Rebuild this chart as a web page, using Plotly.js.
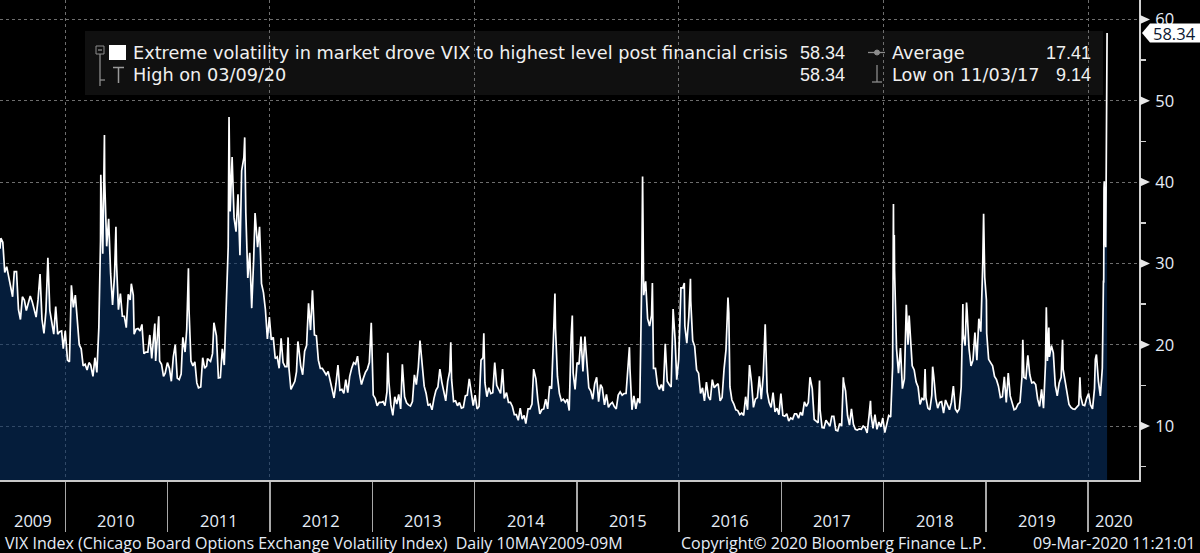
<!DOCTYPE html>
<html><head><meta charset="utf-8">
<script src="https://cdn.plot.ly/plotly-3.0.1.min.js"></script>
<style>html,body{margin:0;padding:0;background:#000;overflow:hidden}#chart{width:1200px;height:553px}</style>
</head><body><div id="chart"></div>
<script>
// ---------------- DATA ----------------
const d2009=['05-12','05-15','05-22','05-29','06-05','06-12','06-19','06-26','07-02','07-10','07-17','07-24','07-31','08-07','08-14','08-21','08-28','09-04','09-11','09-18','09-25','10-02','10-09','10-16','10-23','10-30','11-06','11-13','11-20','11-27','12-04','12-11','12-18','12-24','12-31'];
const v2009=[31.8,33.1,32.6,28.9,29.6,28.2,27.0,25.9,29.0,29.0,24.3,23.1,25.9,25.5,24.2,25.0,26.0,25.3,24.2,23.4,25.6,28.7,23.1,21.4,24.1,30.7,24.2,22.7,21.3,24.7,21.3,21.6,21.7,19.5,21.7];
const d2010=['01-08','01-15','01-22','01-29','02-05','02-12','02-19','02-26','03-05','03-12','03-19','03-26','04-01','04-09','04-16','04-23','04-30','05-06','05-07','05-14','05-20','05-21','05-28','06-04','06-11','06-18','06-25','06-30','07-02','07-09','07-16','07-23','07-30','08-06','08-13','08-20','08-24','08-31','09-03','09-10','09-17','09-24','10-01','10-08','10-15','10-22','10-29','11-05','11-12','11-16','11-19','11-26','11-30','12-03','12-10','12-17','12-23','12-31'];
const v2010=[18.1,17.9,27.3,24.6,26.1,22.7,20.0,19.5,17.4,17.6,16.9,17.8,17.5,16.1,18.4,16.6,22.1,32.8,40.9,31.2,45.8,40.1,32.1,35.5,28.8,24.9,28.5,34.5,30.1,24.3,26.3,23.5,23.5,22.1,26.2,25.5,27.5,26.1,21.3,21.9,22.0,21.7,22.5,18.9,19.1,19.1,21.2,18.3,20.6,22.6,18.0,22.0,23.5,18.0,17.6,16.1,16.5,17.8];
const d2011=['01-07','01-14','01-21','01-28','02-04','02-11','02-18','02-24','03-04','03-10','03-16','03-18','03-25','04-01','04-08','04-15','04-21','04-29','05-06','05-13','05-20','05-23','06-03','06-10','06-15','06-24','07-01','07-08','07-15','07-22','07-29','08-05','08-08','08-12','08-19','08-26','09-02','09-09','09-16','09-22','09-30','10-03','10-07','10-14','10-21','10-28','11-04','11-09','11-18','11-25','12-02','12-09','12-16','12-23','12-30'];
const v2011=[17.1,15.5,18.5,20.0,15.9,15.7,16.4,20.9,19.1,21.9,29.4,24.4,18.0,17.4,17.9,15.3,14.7,14.8,18.4,17.1,17.4,18.3,17.95,18.9,22.7,21.1,15.9,15.95,19.5,17.5,25.3,32.0,48.0,36.4,43.1,35.6,33.9,38.5,31.0,41.4,43.0,45.5,36.2,28.2,31.3,24.5,30.5,36.2,32.0,34.5,27.5,26.4,24.3,20.7,23.4];
const d2012=['01-06','01-13','01-20','01-27','02-03','02-10','02-17','02-24','03-02','03-06','03-09','03-16','03-23','03-30','04-05','04-10','04-13','04-20','04-27','05-04','05-11','05-18','05-25','06-01','06-08','06-15','06-22','06-29','07-06','07-13','07-20','07-27','08-03','08-10','08-17','08-24','08-31','09-07','09-14','09-21','09-28','10-05','10-12','10-19','10-26','11-02','11-09','11-16','11-23','11-30','12-07','12-14','12-21','12-28'];
const v2012=[20.6,20.9,18.3,18.5,17.1,20.8,17.8,17.3,17.3,20.9,17.1,14.5,15.0,15.5,16.7,20.4,19.6,17.4,16.3,19.2,19.9,25.1,21.8,26.7,21.2,21.1,18.1,17.1,17.1,16.7,16.3,16.7,15.6,14.7,13.45,15.2,17.5,14.4,14.5,14.0,15.7,14.1,16.1,17.1,17.8,17.6,18.6,16.4,15.1,15.9,16.6,17.0,17.8,22.7];
const d2013=['01-04','01-11','01-18','01-25','02-01','02-08','02-15','02-22','02-25','03-01','03-08','03-15','03-22','03-29','04-05','04-12','04-18','04-26','05-03','05-10','05-17','05-24','05-31','06-07','06-14','06-20','06-28','07-05','07-12','07-19','07-26','08-02','08-09','08-16','08-23','08-30','09-06','09-13','09-20','09-27','10-04','10-08','10-11','10-18','10-25','11-01','11-08','11-15','11-22','11-29','12-06','12-13','12-20','12-27'];
const v2013=[13.8,13.4,12.5,12.9,12.9,13.0,12.5,14.2,19.0,15.4,12.6,11.3,13.6,12.7,13.9,12.1,17.6,13.6,12.85,12.6,12.45,13.0,16.3,15.1,17.2,20.5,16.9,14.9,14.0,12.5,12.7,12.0,13.4,14.4,14.8,17.0,15.4,14.2,13.1,15.5,16.7,20.3,15.7,13.0,13.1,12.5,12.9,12.2,12.3,13.7,13.8,15.8,13.8,12.5];
const d2014=['01-03','01-10','01-17','01-24','01-31','02-03','02-07','02-14','02-21','02-28','03-07','03-14','03-21','03-28','04-04','04-11','04-17','04-25','05-02','05-09','05-16','05-23','05-30','06-06','06-13','06-20','06-27','07-03','07-11','07-18','07-25','07-31','08-08','08-15','08-22','08-29','09-05','09-12','09-19','09-26','10-03','10-10','10-15','10-17','10-24','10-31','11-07','11-14','11-21','11-28','12-05','12-12','12-16','12-19','12-26'];
const v2014=[13.8,12.1,12.4,18.1,18.4,21.4,15.3,13.6,14.7,14.0,14.1,17.8,15.0,14.4,14.0,17.0,13.4,14.1,12.9,12.9,12.4,11.4,11.4,10.7,12.2,10.85,11.3,10.3,12.1,12.1,12.7,17.0,15.8,13.2,11.5,12.0,12.1,13.3,12.1,14.9,14.6,21.2,26.3,22.0,16.1,14.0,13.1,13.3,12.9,13.3,11.9,21.1,23.6,16.5,14.5];
const d2015=['01-02','01-09','01-16','01-23','01-30','02-06','02-13','02-20','02-27','03-06','03-13','03-20','03-27','04-02','04-10','04-17','04-24','05-01','05-08','05-15','05-22','05-29','06-05','06-12','06-19','06-26','07-02','07-08','07-10','07-17','07-24','07-31','08-07','08-14','08-21','08-24','08-28','09-04','09-11','09-18','09-25','09-28','10-02','10-09','10-16','10-23','10-30','11-06','11-13','11-20','11-27','12-04','12-11','12-14','12-18','12-24','12-31'];
const v2015=[17.8,17.6,21.0,16.7,21.0,17.3,14.7,14.3,13.3,15.2,16.0,13.0,15.1,14.7,12.6,13.9,12.3,12.7,12.9,12.4,12.1,13.8,14.2,13.8,14.0,14.0,16.8,19.7,17.0,12.0,13.7,12.1,13.4,12.8,28.0,40.7,26.1,27.8,23.2,22.3,23.6,27.6,17.1,17.1,15.1,14.5,15.1,14.3,20.1,15.5,15.1,14.8,24.4,22.7,20.7,15.7,18.2];
const d2016=['01-08','01-15','01-20','01-22','01-29','02-05','02-11','02-12','02-19','02-26','03-04','03-11','03-18','03-25','04-01','04-08','04-15','04-22','04-29','05-06','05-13','05-20','05-27','06-03','06-10','06-17','06-24','06-27','07-01','07-08','07-15','07-22','07-29','08-05','08-12','08-19','08-26','09-02','09-09','09-16','09-23','09-30','10-07','10-14','10-21','10-28','11-04','11-11','11-18','11-25','12-02','12-09','12-16','12-23','12-30'];
const v2016=[27.0,27.0,27.6,22.3,20.2,23.4,28.1,25.4,20.5,19.8,16.9,16.5,14.0,14.7,13.1,15.4,13.6,13.2,15.7,14.7,15.0,15.2,13.1,13.5,17.0,19.4,25.8,23.9,14.8,13.2,12.7,12.0,11.9,11.4,11.6,11.3,13.6,12.0,17.5,15.4,12.3,13.3,13.5,16.1,13.3,16.2,22.5,14.2,12.9,12.3,14.1,11.75,12.2,11.4,14.0];
const d2017=['01-06','01-13','01-20','01-27','02-03','02-10','02-17','02-24','03-03','03-10','03-17','03-24','03-31','04-07','04-13','04-21','04-28','05-05','05-12','05-17','05-19','05-26','06-02','06-09','06-16','06-23','06-30','07-07','07-14','07-21','07-28','08-04','08-10','08-11','08-18','08-25','09-01','09-08','09-15','09-22','09-29','10-06','10-13','10-20','10-27','11-03','11-10','11-15','11-17','11-24','12-01','12-08','12-15','12-22','12-29'];
const v2017=[11.3,11.2,11.5,10.6,11.0,10.85,11.5,11.5,10.96,11.7,11.3,12.96,12.4,12.9,16.0,14.6,10.8,10.6,10.4,15.6,12.0,9.8,9.75,10.7,10.4,10.0,11.2,11.2,9.5,9.4,10.3,10.0,16.0,15.5,14.3,11.3,10.1,12.1,10.2,9.6,9.5,9.65,9.6,10.0,9.8,9.14,11.3,13.1,11.4,9.7,11.4,9.6,10.5,9.9,11.0];
const d2018=['01-05','01-12','01-19','01-26','02-02','02-05','02-06','02-08','02-09','02-16','02-23','03-02','03-09','03-16','03-23','03-29','04-02','04-06','04-13','04-20','04-27','05-04','05-11','05-18','05-25','05-29','06-01','06-08','06-15','06-22','06-25','06-29','07-06','07-13','07-20','07-27','08-03','08-10','08-17','08-24','08-31','09-07','09-14','09-21','09-28','10-05','10-11','10-12','10-19','10-24','10-26','11-02','11-09','11-16','11-23','11-30','12-07','12-14','12-21','12-24','12-28'];
const v2018=[9.2,10.2,11.3,11.1,17.3,37.3,30.0,33.5,29.1,19.5,16.5,19.6,14.6,15.8,24.9,20.0,23.6,21.5,17.4,16.9,15.4,14.8,12.65,13.4,13.2,17.0,13.5,12.2,12.0,13.8,17.3,16.1,13.4,12.2,12.9,13.0,11.6,13.2,12.6,12.0,12.9,14.9,12.1,11.7,12.1,14.8,25.0,21.3,19.9,25.2,24.2,19.5,17.4,18.1,21.5,18.1,23.2,21.6,30.1,36.1,28.3];
const d2019=['01-03','01-04','01-11','01-18','01-25','02-01','02-08','02-15','02-22','03-01','03-08','03-15','03-22','03-29','04-05','04-12','04-18','04-26','05-03','05-10','05-13','05-17','05-24','05-31','06-07','06-14','06-21','06-28','07-05','07-12','07-19','07-26','08-02','08-05','08-09','08-14','08-16','08-23','08-30','09-06','09-13','09-20','09-27','10-02','10-04','10-11','10-18','10-25','11-01','11-08','11-15','11-22','11-29','12-03','12-06','12-13','12-20','12-27'];
const v2019=[25.5,21.4,18.2,17.8,17.4,16.1,15.7,14.9,13.5,13.6,16.05,12.9,16.5,13.7,12.8,12.0,12.1,12.7,12.9,16.0,20.6,16.0,15.85,18.7,16.3,15.3,15.4,15.1,13.3,12.4,14.5,12.2,17.6,24.6,18.0,22.1,18.5,19.9,19.0,15.0,13.7,15.3,16.0,20.6,17.0,15.6,14.25,12.65,12.3,12.1,12.05,12.3,12.6,16.0,13.6,12.6,12.5,13.4];
const d2020=['01-03','01-10','01-17','01-24','01-27','01-31','02-07','02-14','02-21','02-24','02-25','02-26','02-27','02-28','03-02','03-03','03-04','03-05','03-06','03-09'];
const v2020=[14.0,12.6,12.1,14.6,18.2,18.8,15.5,13.7,17.1,25.0,27.9,27.6,39.2,40.1,33.4,36.8,32.0,39.6,41.9,58.34];

const yearLabels=[2009,2010,2011,2012,2013,2014,2015,2016,2017,2018,2019,2020];
const yTicks=[10,20,30,40,50,60];
const yMinorTicks=[5,15,25,35,45,55];
const seriesTitle='Extreme volatility in market drove VIX to highest level post financial crisis';
const lastLabel='58.34';
const highLabel='High on 03/09/20', highValue='58.34';
const avgLabel='Average', avgValue='17.41';
const lowLabel='Low on 11/03/17', lowValue='9.14';
const footerLeft='VIX Index (Chicago Board Options Exchange Volatility Index)  Daily 10MAY2009-09M';
const footerMid='Copyright\u00A9 2020 Bloomberg Finance L.P.';
const footerRight='09-Mar-2020 11:21:01';

// ---------------- BUILD ----------------
const byYear={2009:[d2009,v2009],2010:[d2010,v2010],2011:[d2011,v2011],2012:[d2012,v2012],2013:[d2013,v2013],2014:[d2014,v2014],2015:[d2015,v2015],2016:[d2016,v2016],2017:[d2017,v2017],2018:[d2018,v2018],2019:[d2019,v2019],2020:[d2020,v2020]};
const xs=[],ys=[];
yearLabels.forEach(y=>{const [d,v]=byYear[y];d.forEach((md,i)=>{xs.push(y+'-'+md);ys.push(v[i]);});});

const FONT='Open Sans, Liberation Sans, Arial, sans-serif';
const LFONT='DejaVu Sans, Open Sans, sans-serif';
const NFONT='Liberation Sans, Arial, sans-serif';
const W=1200,H=553,M={l:0,r:61,t:0,b:73};
const PW=W-M.l-M.r,PH=H-M.t-M.b;
const X_RANGE=['2009-05-12','2020-07-01'];
const Y_RANGE=[3.36,62.4];
const pX=p=>p/PW;
const pY=p=>1-p/PH;
const valPx=v=>PH*(1-(v-Y_RANGE[0])/(Y_RANGE[1]-Y_RANGE[0]));
const pathPx=pts=>'M '+pts.map(([a,b])=>pX(a).toFixed(5)+','+pY(b).toFixed(5)).join(' L ')+' Z';

const boundaries=yearLabels.slice(1).map(y=>y+'-01-01');
const evenB=boundaries.filter((b,i)=>i%2===0);
const oddB=boundaries.filter((b,i)=>i%2===1);

const white='#f0f0f0', gray='#8c8c8c', txt='#e6edf7';
const ann=[], shp=[];
const T=(text,x,y,xa,size,color,fam)=>({xref:'paper',yref:'paper',x:pX(x),y:pY(y),xanchor:xa,yanchor:'middle',text,showarrow:false,font:{family:fam||FONT,size,color}});

// legend box + items
shp.push({type:'rect',xref:'paper',yref:'paper',x0:pX(85),x1:pX(1103),y0:pY(95),y1:pY(31),fillcolor:'#101010',line:{width:0},layer:'below'});
const L=(x0,y0,x1,y1,c,w)=>({type:'line',xref:'paper',yref:'paper',x0:pX(x0),y0:pY(y0),x1:pX(x1),y1:pY(y1),line:{color:c||gray,width:w||1.3},layer:'above'});
shp.push({type:'rect',xref:'paper',yref:'paper',x0:pX(96),x1:pX(104),y0:pY(54),y1:pY(46),line:{color:gray,width:1},fillcolor:'rgba(0,0,0,0)'});
shp.push(L(98,50,102,50));
shp.push(L(100,54,100,86));
shp.push(L(100,80,105,80));
shp.push({type:'rect',xref:'paper',yref:'paper',x0:pX(109),x1:pX(126),y0:pY(60),y1:pY(45),fillcolor:'#ffffff',line:{width:0}});
shp.push(L(113,67.5,124,67.5,'#9a9a9a',1.5));
shp.push(L(118.5,67.5,118.5,83,'#9a9a9a',1.5));
shp.push(L(868,52.5,885,52.5));
shp.push({type:'circle',xref:'paper',yref:'paper',x0:pX(874.5),x1:pX(879.5),y0:pY(55),y1:pY(50),fillcolor:gray,line:{color:gray,width:1}});
shp.push(L(877,65,877,82));
shp.push(L(872,82,882,82));

const LS=17.7, NS=18;
ann.push(T(seriesTitle,131,53,'left',LS,white,LFONT));
ann.push(T(lastLabel,847,53,'right',NS,white,NFONT));
ann.push(T(avgLabel,890,53,'left',LS,white,LFONT));
ann.push(T(avgValue,1093,53,'right',NS,white,NFONT));
ann.push(T(highLabel,131,75.5,'left',LS,white,LFONT));
ann.push(T(highValue,847,75.5,'right',NS,white,NFONT));
ann.push(T(lowLabel,890,75.5,'left',LS,white,LFONT));
ann.push(T(lowValue,1093,75.5,'right',NS,white,NFONT));

// axis triangles
yTicks.forEach(v=>{const t=valPx(v);shp.push({type:'path',xref:'paper',yref:'paper',path:pathPx([[1140,t-4.5],[1150,t],[1140,t+4.5]]),fillcolor:'#e8e8e8',line:{width:0},layer:'above'});});

// last value tag
const lastV=ys[ys.length-1];
const tp=valPx(lastV);
shp.push({type:'path',xref:'paper',yref:'paper',path:pathPx([[1142,tp],[1150,tp-9.5],[1200,tp-9.5],[1200,tp+9.5],[1150,tp+9.5]]),fillcolor:'#ffffff',line:{width:0},layer:'above'});
ann.push({xref:'paper',yref:'y',x:pX(1151),y:lastV,xanchor:'left',yanchor:'middle',text:lastLabel,showarrow:false,font:{family:FONT,size:16.5,color:'#0c1830'}});

// year labels centred in visible part of each year
const r0=Date.parse(X_RANGE[0]),r1=Date.parse(X_RANGE[1]);
yearLabels.forEach(y=>{
  const s=Math.max(Date.parse(y+'-01-01'),r0),e=Math.min(Date.parse((y+1)+'-01-01'),r1);
  const mid=new Date((s+e)/2).toISOString().slice(0,10);
  ann.push({xref:'x',yref:'paper',x:mid,y:0,yanchor:'middle',yshift:-40,text:String(y),showarrow:false,font:{family:FONT,size:16.5,color:txt}});
});
// footer
ann.push(T(footerLeft,3,543,'left',16,txt));
ann.push(T(footerMid,679,543,'left',16,txt));
ann.push(T(footerRight,1197,543,'right',16,txt));

const trace={x:xs,y:ys,type:'scatter',mode:'lines',line:{color:'#ffffff',width:1.7},fill:'tozeroy',fillcolor:'rgba(8,48,98,0.6)',hoverinfo:'skip'};

const layout={
  width:W,height:H,margin:M,paper_bgcolor:'#000',plot_bgcolor:'#000',showlegend:false,
  font:{family:FONT,color:txt},
  xaxis:{type:'date',range:X_RANGE,tickmode:'array',tickvals:evenB,showticklabels:false,ticks:'outside',ticklen:50,tickwidth:1.5,tickcolor:'#a8a8a8',
    showgrid:true,gridcolor:'#6e6e6e',griddash:'dot',gridwidth:1,
    minor:{tickmode:'array',tickvals:oddB,ticks:'outside',ticklen:50,tickwidth:1.5,tickcolor:'#a8a8a8',showgrid:false},
    showline:true,linecolor:'#c8c8c8',linewidth:2,zeroline:false,fixedrange:true},
  yaxis:{side:'right',range:Y_RANGE,tickmode:'array',tickvals:yTicks,ticks:'outside',ticklen:11,tickcolor:'rgba(0,0,0,0)',
    tickfont:{family:FONT,size:16.5,color:txt},
    showgrid:true,gridcolor:'#6e6e6e',griddash:'dot',gridwidth:1,
    minor:{tickmode:'array',tickvals:yMinorTicks,ticks:'outside',ticklen:5,tickwidth:1.5,tickcolor:'#d0d0d0',showgrid:false},
    showline:true,linecolor:'#d0d0d0',linewidth:2,zeroline:false,fixedrange:true},
  shapes:shp,annotations:ann
};
Plotly.newPlot('chart',[trace],layout,{displayModeBar:false,staticPlot:true});
</script></body></html>
